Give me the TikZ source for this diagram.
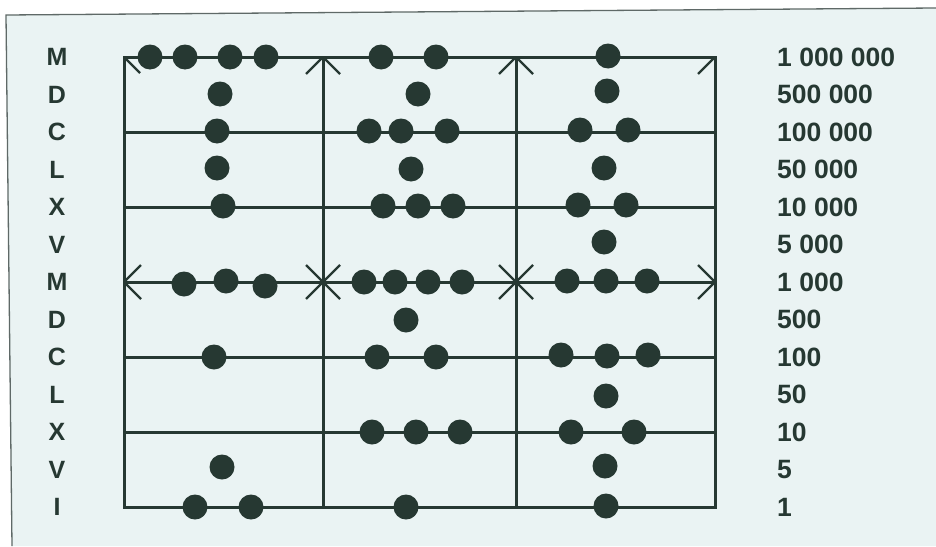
\documentclass[tikz,border=0pt]{standalone}
\usepackage{fontspec}
\setmainfont{Liberation Sans}
\definecolor{ink}{RGB}{38,56,50}
\definecolor{paper}{RGB}{234,243,243}
\definecolor{framec}{RGB}{95,105,103}
\begin{document}
\begin{tikzpicture}[x=1pt,y=-1pt,
  rod/.style={draw=ink,line width=3pt,line join=miter},
  tick/.style={draw=ink,line width=2.4pt},
  bead/.style={circle,fill=ink,minimum size=25pt,inner sep=0pt},
  lab/.style={font=\bfseries\fontsize{25}{25}\selectfont,text=ink,inner sep=0pt},
  num/.style={font=\bfseries\fontsize{26.5}{26.5}\selectfont,text=ink,inner sep=0pt,anchor=west}]
\useasboundingbox (0,0) rectangle (936,546);
\fill[white] (0,0) rectangle (936,546);
\fill[paper] (6,15) -- (936,8) -- (936,546) -- (12,546) -- cycle;
\draw[framec,line width=1.3pt] (12,546) -- (6,15) -- (936,8);
% grid coordinates
\foreach \c/\x in {0/124,1/323,2/516,3/715}{
  \foreach \r in {0,...,12}{
    \coordinate (g\c-\r) at (\x,{57+37.5*\r});
  }
}
% frame of the abacus and rods
\draw[rod] (g0-0) -- (g3-0) -- (g3-12) -- (g0-12) -- cycle;
\foreach \r in {2,4,...,10}{ \draw[rod] (g0-\r) -- (g3-\r); }
\foreach \c in {1,2}{ \draw[rod] (g\c-0) -- (g\c-12); }
% arrow marks at the top
\draw[tick] (g0-0) -- ++(16,16);
\foreach \c in {1,2}{ \draw[tick] (g\c-0) -- ++(-17,17) (g\c-0) -- ++(17,17); }
\draw[tick] (g3-0) -- ++(-17,17);
% marks on the thousands line
\draw[tick] (g0-6) -- ++(17,-17) (g0-6) -- ++(17,17);
\foreach \c in {1,2}{ \draw[tick] (g\c-6) -- ++(-17,-17) (g\c-6) -- ++(17,17) (g\c-6) -- ++(17,-17) (g\c-6) -- ++(-17,17); }
\draw[tick] (g3-6) -- ++(-17,-17) (g3-6) -- ++(-17,17);
% beads
\foreach \bx/\by [count=\i] in {
  150/57,185/57,230/57,266/57,220/94,217/131,217/168,223/206,184/284,226/281,265/286,214/357,222/467,195/507,251/507,
  381/57,436/57,418/94,369/131,401/131,447/131,411/169,383/206,418/206,453/206,364/282,395/282,428/282,462/282,406/320,377/357,436/357,372/432,416/432,460/432,406/507,
  608/56,607/91,580/130,628/130,604/168,578/205,626/205,604/242,567/281,606/281,647/281,561/355,607/356,648/355,606/396,571/432,634/432,605/466,606/506}{
  \node[bead] (bead\i) at (\bx,\by) {};
}
% labels
\foreach \t [count=\i from 0] in {M,D,C,L,X,V,M,D,C,L,X,V,I}{
  \node[lab] (L\i) at (57,{57+37.5*\i}) {\t};
}
\foreach \t [count=\i from 0] in {1 000 000,500 000,100 000,50 000,10 000,5 000,1 000,500,100,50,10,5,1}{
  \node[num] (R\i) at (777,{57+37.5*\i}) {\t};
}
\end{tikzpicture}
\end{document}
